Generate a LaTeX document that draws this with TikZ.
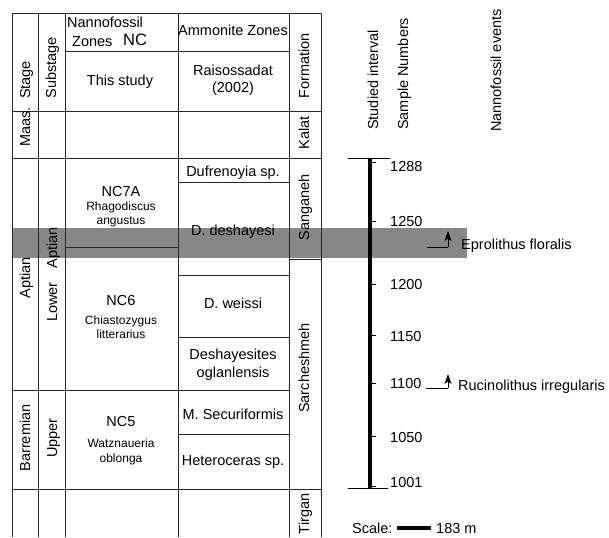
\documentclass[tikz,border=0pt]{standalone}
\usepackage{fontspec}
\setmainfont{Liberation Sans}
\usetikzlibrary{arrows.meta}
\begin{document}
\begin{tikzpicture}[x=1pt,y=-1pt,
  grid/.style={line width=0.9pt, draw=black!85},
  lbl/.style={font=\fontsize{14.5}{16}\selectfont, inner sep=0pt, text height=10.4pt, text depth=0pt},
  sp/.style={font=\fontsize{12}{13}\selectfont, inner sep=0pt, text height=8.6pt, text depth=0pt},
  big/.style={font=\fontsize{16.5}{18}\selectfont, inner sep=0pt, text height=11.8pt, text depth=0pt},
  vlbl/.style={lbl, rotate=90},
  band/.style={fill=black!47},
  bar/.style={line width=3.6pt, draw=black},
  thinline/.style={line width=0.8pt, draw=black},
  evarrow/.style={line width=0.8pt, draw=black, -{Stealth[length=10pt,width=7pt,inset=2.5pt]}},
]
\useasboundingbox (0,0) rectangle (609,537);
% grey band
\fill[band] (12,228) rectangle (467,258);
% table grid
\foreach \x in {12,38,65,178,289,321} \draw[grid] (\x,13) -- (\x,537);
\draw[grid] (12,13) -- (321,13);
\draw[grid] (65,51) -- (289,51);
\draw[grid] (12,111) -- (321,111);
\draw[grid] (12,158) -- (321,158);
\draw[grid] (178,182) -- (289,182);
\draw[grid] (65,247) -- (178,247);
\draw[grid] (289,259) -- (321,259);
\draw[grid] (178,275) -- (289,275);
\draw[grid] (178,337) -- (289,337);
\draw[grid] (12,390) -- (289,390);
\draw[grid] (178,434) -- (289,434);
\draw[grid] (12,489) -- (321,489);
% header texts
\node[vlbl] (stage) at (25,80) {Stage};
\node[vlbl] (substage) at (51,68) {Substage};
\node[lbl, anchor=west] (nanno) at (67,22) {Nannofossil};
\node[lbl, anchor=west] (zones) at (72,41) {Zones};
\node[big, anchor=west] (nc) at (123,40) {NC};
\node[lbl] (ammo) at (233,30) {Ammonite Zones};
\node[vlbl] (formation) at (304,66) {Formation};
\node[lbl] (study) at (120,80) {This study};
\node[lbl] (rais) at (233,70) {Raisossadat};
\node[lbl] (rais2) at (233,87) {(2002)};
% Maastrichtian row
\node[vlbl] (maas) at (25,127) {Maas.};
\node[vlbl] (kalat) at (304,133) {Kalat};
% Aptian
\node[vlbl] (aptian) at (25,278) {Aptian};
\node[vlbl] (lower) at (52,302) {Lower};
\node[vlbl] (aptian2) at (52,248) {Aptian};
\node[lbl] (nc7a) at (121,191) {NC7A};
\node[sp] (rhago) at (121,206) {Rhagodiscus};
\node[sp] (angu) at (121,220) {angustus};
\node[lbl] (nc6) at (121,300) {NC6};
\node[sp] (chias) at (121,320) {Chiastozygus};
\node[sp] (litt) at (121,334) {litterarius};
\node[lbl] (dufr) at (233,171) {Dufrenoyia sp.};
\node[lbl] (desh) at (233,230) {D. deshayesi};
\node[lbl] (weis) at (233,303) {D. weissi};
\node[lbl] (deshs) at (233,354) {Deshayesites};
\node[lbl] (ogla) at (233,372) {oglanlensis};
\node[vlbl] (sang) at (304,207) {Sanganeh};
\node[vlbl] (sarc) at (304,368) {Sarcheshmeh};
% Barremian
\node[vlbl] (barr) at (25,438) {Barremian};
\node[vlbl] (upper) at (52,438) {Upper};
\node[lbl] (nc5) at (121,421) {NC5};
\node[sp] (watz) at (121,443) {Watznaueria};
\node[sp] (oblo) at (121,458) {oblonga};
\node[lbl] (secu) at (233,414) {M. Securiformis};
\node[lbl] (hete) at (233,460) {Heteroceras sp.};
\node[vlbl] (tirg) at (304,514) {Tirgan};
% right-hand headers
\node[vlbl, anchor=west] (studied) at (373,130) {Studied interval};
\node[vlbl, anchor=west] (samples) at (403,130) {Sample Numbers};
\node[vlbl, anchor=west] (events) at (496,132) {Nannofossil events};
% studied interval bar
\coordinate (bartop) at (370,158);
\coordinate (barbot) at (370,488);
\coordinate (captl) at (348,158);
\coordinate (captr) at (390,158);
\coordinate (capbl) at (348,488);
\coordinate (capbr) at (388,488);
\draw[bar] (bartop) -- (barbot);
\draw[thinline] (captl) -- (captr);
\draw[thinline] (capbl) -- (capbr);
\foreach \y in {162,221,284,335,383,436,486} \draw[thinline] (370,\y) -- (376,\y);
\node[lbl, anchor=west] (s1288) at (390,166) {1288};
\node[lbl, anchor=west] (s1250) at (390,221) {1250};
\node[lbl, anchor=west] (s1200) at (390,284) {1200};
\node[lbl, anchor=west] (s1150) at (390,336) {1150};
\node[lbl, anchor=west] (s1100) at (390,383) {1100};
\node[lbl, anchor=west] (s1050) at (390,437) {1050};
\node[lbl, anchor=west] (s1001) at (390,482) {1001};
% events
\coordinate (e1a) at (427,247);
\coordinate (e1b) at (448,247);
\coordinate (e1c) at (448,231);
\draw[thinline] (e1a) -- (e1b);
\draw[evarrow] (e1b) -- (e1c);
\node[lbl, anchor=west] (eprol) at (461,244) {Eprolithus floralis};
\coordinate (e2a) at (426,388);
\coordinate (e2b) at (448,388);
\coordinate (e2c) at (448,374);
\draw[thinline] (e2a) -- (e2b);
\draw[evarrow] (e2b) -- (e2c);
\node[lbl, anchor=west] (rucin) at (458,385) {Rucinolithus irregularis};
% scale
\node[lbl, anchor=west] (scale) at (352,528) {Scale:};
\coordinate (sca) at (397,528);
\coordinate (scb) at (431,528);
\draw[bar] (sca) -- (scb);
\node[lbl, anchor=west] (scalev) at (436,528) {183 m};
\end{tikzpicture}
\end{document}
